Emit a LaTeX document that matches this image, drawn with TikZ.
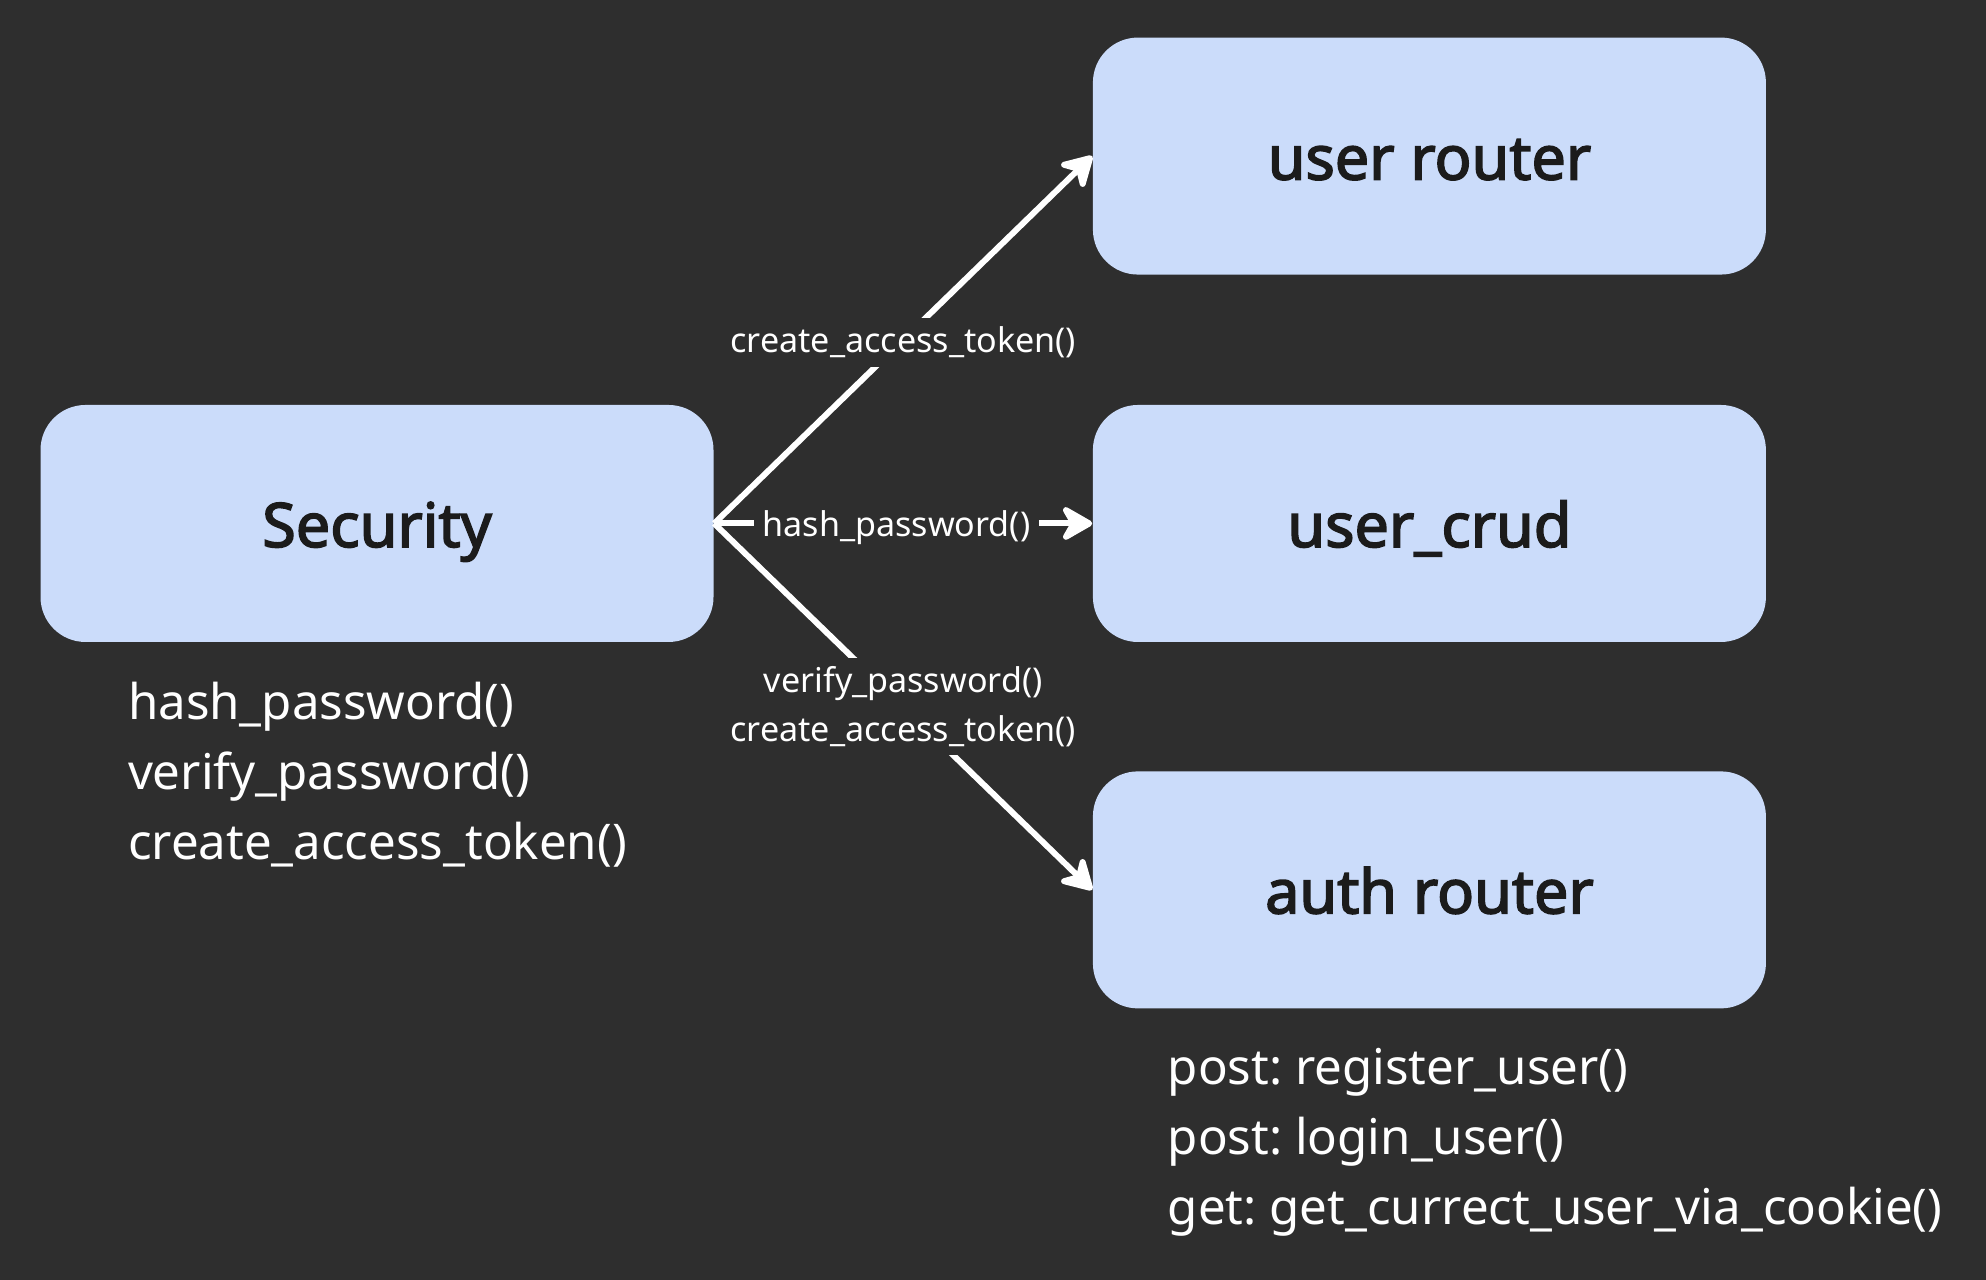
\documentclass[tikz,border=0pt]{standalone}
\usepackage{fontspec}
\setmainfont{Noto Sans}
\newfontfamily\modulefont{Noto Sans}[FakeBold=2.6]
\usepackage{tikz}
\usetikzlibrary{positioning,arrows.meta,backgrounds}

\definecolor{bgdark}{HTML}{2E2E2E}
\definecolor{boxblue}{HTML}{CBDCFA}
\definecolor{boxtext}{HTML}{1B1B1B}
\frenchspacing

\begin{document}
\begin{tikzpicture}[
    module/.style={draw=none, fill=boxblue, rounded corners=0.45cm, minimum width=6.73cm, minimum height=2.37cm, text height=0.52cm, text depth=0.05cm, text=boxtext, font=\modulefont\fontsize{17.4}{20}\selectfont},
    calls/.style={draw=white, line width=1.7pt, -{Stealth[length=0.37cm, width=0.42cm, inset=0.12cm, round]}},
    calllabel/.style={fill=bgdark, text=white, inner sep=2.5pt, align=center, font=\fontsize{9.7}{13.7}\selectfont},
    funclist/.style={text=white, inner sep=0pt, anchor=north west, align=left, font=\fontsize{14}{19.9}\selectfont}]
\fill[bgdark] (0,0) rectangle (19.86,12.80);
\useasboundingbox (0,0) rectangle (19.86,12.80);
\node[module] (security) at (3.77,7.565) {Security};
\node[module, right=3.78cm of security] (usercrud) {user\_crud};
\node[module, above=1.29cm of usercrud] (userrouter) {user router};
\node[module, below=1.28cm of usercrud] (authrouter) {auth router};
\node[funclist, below right=0.385cm and 0.875cm of security.south west] (securityfuncs) {hash\_password()\\verify\_password()\\create\_access\_token()};
\node[funclist, below right=0.385cm and 0.75cm of authrouter.south west] (authfuncs) {post: register\_user()\\post: login\_user()\\get: get\_currect\_user\_via\_cookie()};
\draw[calls] (security.east) -- node[calllabel, yshift=-0.7pt] {create\_access\_token()} (userrouter.west);
\draw[calls] (security.east) -- node[calllabel, pos=0.482, yshift=-1.2pt] {hash\_password()} (usercrud.west);
\draw[calls] (security.east) -- node[calllabel] {verify\_password()\\create\_access\_token()} (authrouter.west);
\end{tikzpicture}
\end{document}
